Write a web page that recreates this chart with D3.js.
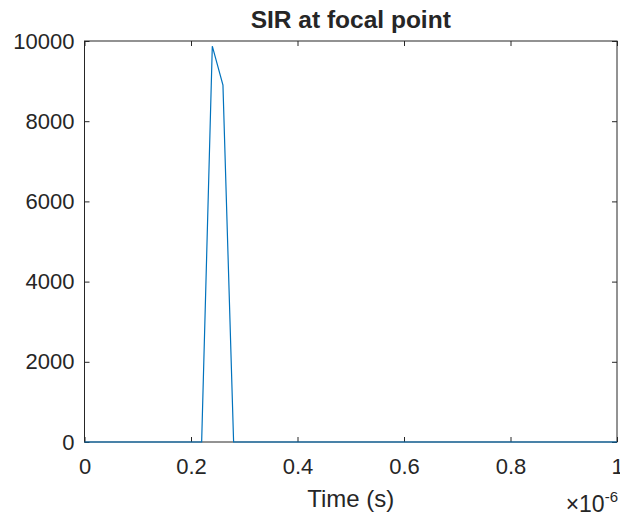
<!DOCTYPE html>
<html>
<head>
<meta charset="utf-8">
<script src="https://cdn.jsdelivr.net/npm/d3@7.9.0/dist/d3.min.js"></script>
<style>
  body { margin: 0; background: #fff; }
  svg text { font-family: "Liberation Sans", Arial, sans-serif; fill: #262626; }
</style>
</head>
<body>
<svg id="chart" width="620" height="516"></svg>
<script>
// time samples in microseconds (x 1e-6 s) and SIR at each
const timeUs = [0, 0.22, 0.24, 0.26, 0.28, 1];
const sir = [0, 0, 9870, 8900, 0, 0];
const xTicks = [0, 0.2, 0.4, 0.6, 0.8, 1];
const yTicks = [0, 2000, 4000, 6000, 8000, 10000];

const margin = { left: 84.5, right: 3, top: 41, bottom: 74 };
const W = 620, H = 516;
const svg = d3.select('#chart');

let x = d3.scaleLinear().domain([0, 1]).range([margin.left, W - margin.right]);
let y = d3.scaleLinear().domain([0, 10000]).range([H - margin.bottom, margin.top]);

// axes box
svg.append('rect')
  .attr('x', x(0)).attr('y', y(10000))
  .attr('width', x(1) - x(0)).attr('height', y(0) - y(10000))
  .attr('fill', 'none').attr('stroke', '#262626').attr('stroke-width', 1);

// ticks (inward)
let xAxis = d3.axisBottom(x).tickValues(xTicks).tickSize(-5).tickPadding(16)
  .tickFormat(d => d3.format('')(d));
let gx = svg.append('g').attr('transform', `translate(0,${y(0)})`).call(xAxis);
let xTop = svg.append('g').attr('transform', `translate(0,${y(10000)})`)
  .call(d3.axisTop(x).tickValues(xTicks).tickSize(-5).tickFormat(''));

let yAxis = d3.axisLeft(y).tickValues(yTicks).tickSize(-5).tickPadding(10)
  .tickFormat(d3.format('d'));
let gy = svg.append('g').attr('transform', `translate(${x(0)},0)`).call(yAxis);
let yRight = svg.append('g').attr('transform', `translate(${x(1)},0)`)
  .call(d3.axisRight(y).tickValues(yTicks).tickSize(-5).tickFormat(''));

[gx, xTop, gy, yRight].forEach(g => {
  g.select('.domain').remove();
  g.selectAll('line').attr('stroke', '#262626');
  g.selectAll('text').attr('font-size', 22).attr('fill', '#262626')
    .attr('font-family', '"Liberation Sans", Arial, sans-serif');
});

// data line
let line = d3.line().x((d, i) => x(timeUs[i])).y(d => y(d));
svg.append('path')
  .datum(sir)
  .attr('d', line)
  .attr('fill', 'none')
  .attr('stroke', '#0072bd')
  .attr('stroke-width', 1.2);

// title
svg.append('text')
  .attr('x', (x(0) + x(1)) / 2).attr('y', 28)
  .attr('text-anchor', 'middle')
  .attr('font-size', 24.5).attr('font-weight', 'bold')
  .attr('fill', '#000')
  .text('SIR at focal point');

// x label
svg.append('text')
  .attr('x', (x(0) + x(1)) / 2).attr('y', 507)
  .attr('text-anchor', 'middle')
  .attr('font-size', 24)
  .text('Time (s)');

// exponent
let ex = svg.append('text')
  .attr('x', 618).attr('y', 512)
  .attr('text-anchor', 'end')
  .attr('font-size', 23);
ex.append('tspan').text('\u00d710');
ex.append('tspan').attr('dy', -10).attr('font-size', 15).text('-6');
</script>
</body>
</html>
